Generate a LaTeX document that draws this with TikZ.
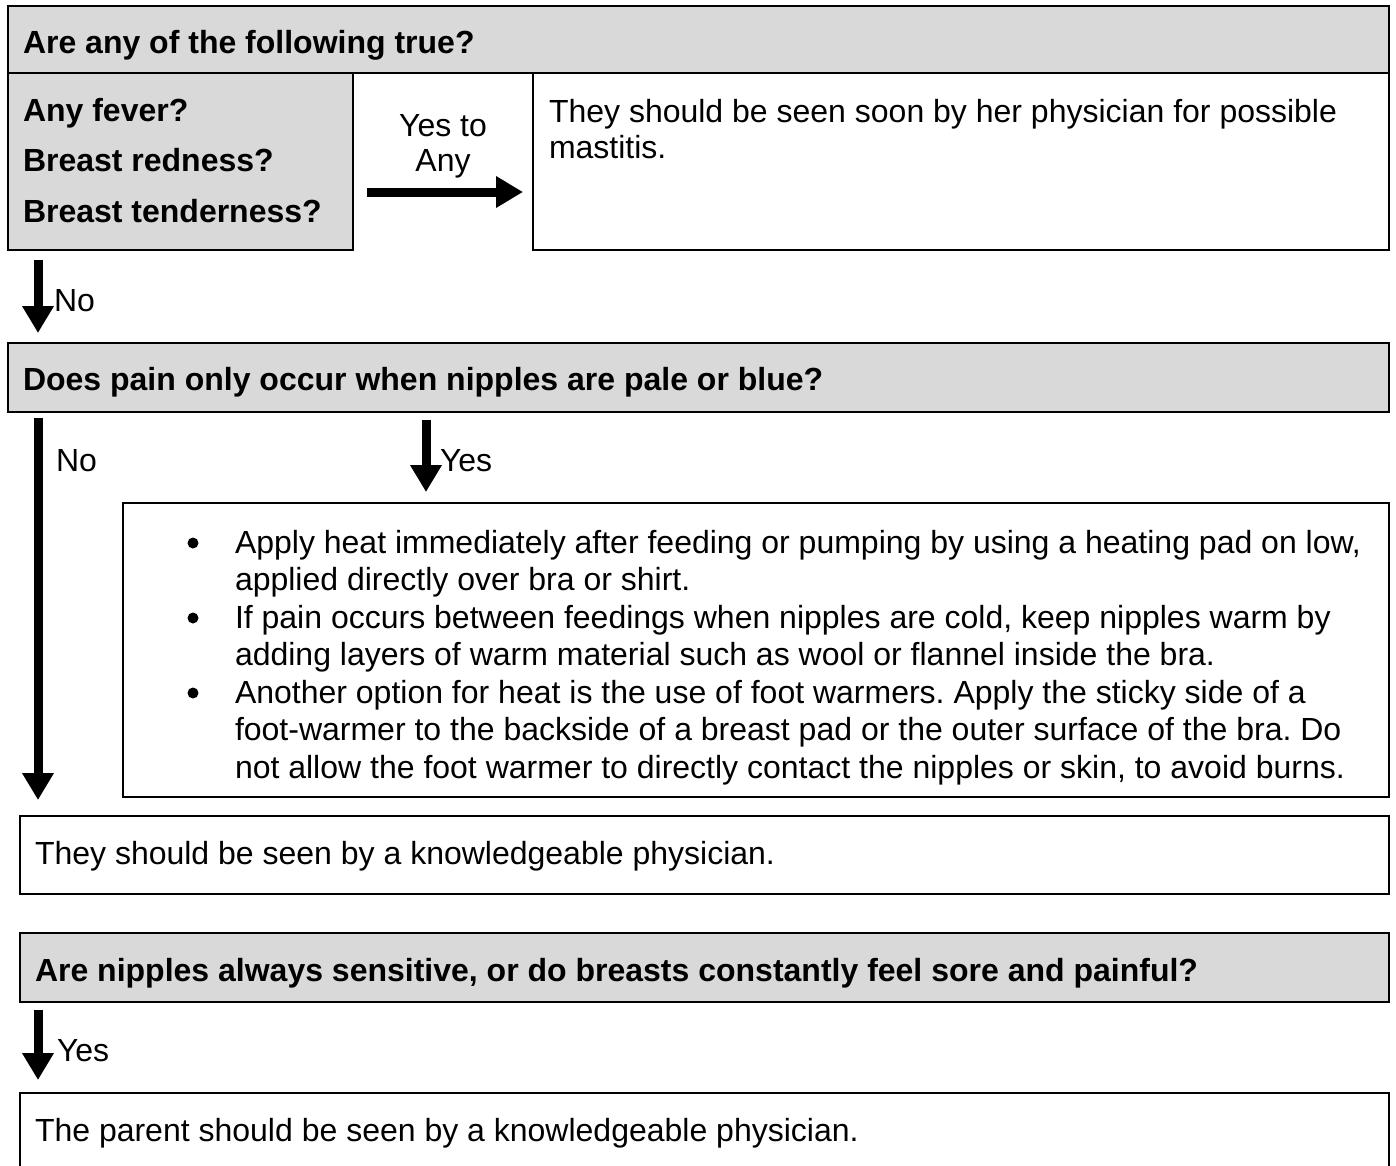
\documentclass[tikz,border=0pt]{standalone}
\usepackage{fontspec}
\setmainfont{Liberation Sans}
\usetikzlibrary{arrows.meta}
\definecolor{hdrgray}{HTML}{D9D9D9}
\frenchspacing
\begin{document}
\begin{tikzpicture}[x=1pt,y=-1pt,
  every node/.style={inner sep=0pt, outer sep=0pt, font=\fontsize{32}{37.5}\selectfont},
  boxline/.style={draw=black, line width=2.8pt, anchor=north west},
  txt/.style={anchor=base west},
  btxt/.style={anchor=base west, font=\fontsize{32}{37.5}\selectfont\bfseries},
  ctxt/.style={anchor=base},
  bigarrow/.style={line width=9pt, -{Triangle[width=30pt,length=27pt]}},
  bul/.style={circle, fill=black, minimum size=11pt}
]
\useasboundingbox (0,0) rectangle (1396,1165);
\clip (0,0) rectangle (1396,1165);

% ---- block 1
\node[boxline, fill=hdrgray, minimum width=1381pt, minimum height=67pt] (h1) at (8,6) {};
\node[boxline, fill=hdrgray, minimum width=345pt, minimum height=177pt] (g1) at (8,73) {};
\node[boxline, fill=white, minimum width=856pt, minimum height=177pt] (w1) at (533,73) {};
\node[btxt] (h1t) at (23,53) {Are any of the following true?};
\node[btxt] (q1) at (23,121) {Any fever?};
\node[btxt] (q2) at (23,171) {Breast redness?};
\node[btxt] (q3) at (23,222) {Breast tenderness?};
\node[ctxt] (yt1) at (443,136) {Yes to};
\node[ctxt] (yt2) at (443,171) {Any};
\node[txt] (m1) at (549,122) {They should be seen soon by her physician for possible};
\node[txt] (m2) at (549,158) {mastitis.};
\coordinate (ra1) at (367,192);
\coordinate (ra2) at (523,192);
\draw[bigarrow] (ra1) -- (ra2);

\coordinate (n1a) at (38,260);
\coordinate (n1b) at (38,333);
\draw[bigarrow] (n1a) -- (n1b);
\node[txt] (n1t) at (54,311) {No};

% ---- block 2
\node[boxline, fill=hdrgray, minimum width=1381pt, minimum height=69pt] (h2) at (8,343) {};
\node[btxt] (h2t) at (23,390) {Does pain only occur when nipples are pale or blue?};

\coordinate (n2a) at (38,418);
\coordinate (n2b) at (38,800);
\draw[bigarrow] (n2a) -- (n2b);
\node[txt] (n2t) at (56,471) {No};

\coordinate (y2a) at (426,420);
\coordinate (y2b) at (426,492);
\draw[bigarrow] (y2a) -- (y2b);
\node[txt] (y2t) at (440,471) {Yes};

\node[boxline, fill=white, minimum width=1266pt, minimum height=294pt] (bb) at (123,503) {};
\node[bul] (d1) at (193,543) {};
\node[bul] (d2) at (193,618) {};
\node[bul] (d3) at (193,693) {};
\node[txt] (l1) at (235,553) {Apply heat immediately after feeding or pumping by using a heating pad on low,};
\node[txt] (l2) at (235,590.5) {applied directly over bra or shirt.};
\node[txt] (l3) at (235,628) {If pain occurs between feedings when nipples are cold, keep nipples warm by};
\node[txt] (l4) at (235,665.5) {adding layers of warm material such as wool or flannel inside the bra.};
\node[txt] (l5) at (235,703) {Another option for heat is the use of foot warmers. Apply the sticky side of a};
\node[txt] (l6) at (235,740.5) {foot-warmer to the backside of a breast pad or the outer surface of the bra. Do};
\node[txt] (l7) at (235,778) {not allow the foot warmer to directly contact the nipples or skin, to avoid burns.};

\node[boxline, fill=white, minimum width=1369pt, minimum height=78pt] (k1) at (20,816) {};
\node[txt] (k1t) at (35,864) {They should be seen by a knowledgeable physician.};

% ---- block 3
\node[boxline, fill=hdrgray, minimum width=1369pt, minimum height=69pt] (h3) at (20,933) {};
\node[btxt] (h3t) at (35,981) {Are nipples always sensitive, or do breasts constantly feel sore and painful?};

\coordinate (y3a) at (38,1010);
\coordinate (y3b) at (38,1080);
\draw[bigarrow] (y3a) -- (y3b);
\node[txt] (y3t) at (57,1061) {Yes};

\node[boxline, fill=white, minimum width=1369pt, minimum height=100pt] (k2) at (20,1093) {};
\node[txt] (k2t) at (35,1141) {The parent should be seen by a knowledgeable physician.};
\end{tikzpicture}
\end{document}
